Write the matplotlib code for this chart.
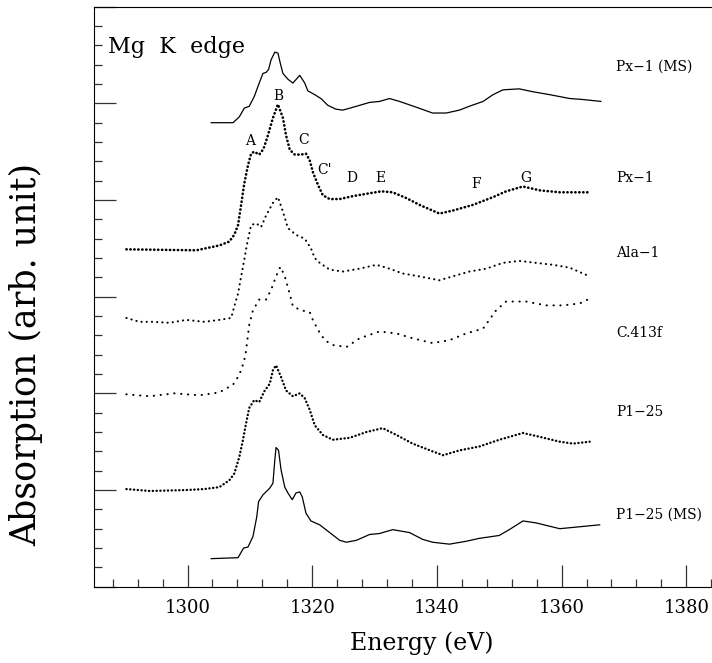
import matplotlib
matplotlib.use("Agg")
import matplotlib.pyplot as plt
from matplotlib.ticker import MultipleLocator

plt.rcParams['font.family'] = ['DejaVu Serif']

# Px-1 (MS) : calcul multiple scattering
pxms_e = [1303.8, 1307.3, 1308.3, 1309.1, 1309.9, 1310.7, 1311.5, 1312.1, 1312.6, 1313.0,
          1313.4, 1314.0, 1314.5, 1314.9, 1315.3, 1316.1, 1316.9, 1318.0, 1318.8, 1319.3,
          1320.4, 1321.4, 1322.5, 1323.8, 1324.9, 1327.1, 1329.2, 1330.8, 1332.4, 1334.0,
          1336.7, 1339.3, 1341.5, 1343.6, 1345.2, 1347.4, 1349.0, 1350.6, 1353.2, 1355.4,
          1358.1, 1361.3, 1363.4, 1366.3]
pxms_y = [4.80, 4.80, 4.86, 4.95, 4.97, 5.07, 5.21, 5.31, 5.32, 5.35,
          5.45, 5.53, 5.52, 5.41, 5.31, 5.25, 5.21, 5.29, 5.21, 5.13,
          5.09, 5.05, 4.98, 4.94, 4.93, 4.97, 5.01, 5.02, 5.05, 5.02,
          4.96, 4.90, 4.90, 4.93, 4.97, 5.02, 5.09, 5.14, 5.15, 5.12,
          5.09, 5.05, 5.04, 5.02]

# Px-1 experimental
px1_e = [1290.2, 1301.4, 1305.1, 1306.7, 1307.5, 1308.1, 1308.6, 1309.1, 1309.7, 1310.2,
         1310.7, 1311.5, 1312.2, 1312.9, 1313.7, 1314.5, 1315.3, 1315.8, 1316.4, 1317.2,
         1318.2, 1319.0, 1319.6, 1320.1, 1320.9, 1321.7, 1322.8, 1324.4, 1326.5, 1329.2,
         1331.1, 1332.9, 1335.1, 1337.2, 1340.4, 1342.5, 1345.8, 1349.0, 1351.1, 1353.8,
         1356.5, 1359.7, 1364.7]
px1_y = [3.49, 3.48, 3.53, 3.57, 3.64, 3.74, 3.95, 4.17, 4.36, 4.48,
         4.50, 4.47, 4.53, 4.67, 4.85, 4.99, 4.85, 4.67, 4.52, 4.47,
         4.47, 4.48, 4.41, 4.29, 4.16, 4.05, 4.01, 4.01, 4.04, 4.07,
         4.09, 4.08, 4.02, 3.95, 3.86, 3.89, 3.95, 4.03, 4.09, 4.14,
         4.10, 4.08, 4.08]

# Ala-1
ala_e = [1290.2, 1292.3, 1294.4, 1297.1, 1299.8, 1302.7, 1305.1, 1307.0, 1307.5, 1308.1,
         1308.6, 1309.1, 1309.5, 1310.2, 1311.0, 1311.8, 1312.6, 1313.7, 1314.5, 1315.3,
         1316.1, 1317.4, 1318.8, 1319.8, 1320.4, 1321.2, 1322.8, 1324.9, 1327.6, 1330.3,
         1332.4, 1334.5, 1337.2, 1340.4, 1342.5, 1345.2, 1347.9, 1350.6, 1353.2, 1355.9,
         1358.6, 1361.3, 1364.5]
ala_y = [2.78, 2.74, 2.74, 2.73, 2.76, 2.74, 2.76, 2.78, 2.90, 3.03,
         3.21, 3.38, 3.53, 3.74, 3.76, 3.72, 3.84, 3.97, 4.03, 3.88,
         3.71, 3.64, 3.60, 3.50, 3.40, 3.35, 3.28, 3.26, 3.29, 3.33,
         3.29, 3.24, 3.21, 3.17, 3.21, 3.26, 3.29, 3.35, 3.37, 3.35,
         3.33, 3.30, 3.21]

# C.413f
c413_e = [1290.2, 1293.9, 1297.9, 1301.9, 1305.1, 1307.3, 1308.1, 1308.6, 1309.0, 1309.3,
          1309.6, 1309.9, 1310.5, 1311.5, 1312.6, 1313.4, 1314.2, 1314.9, 1315.6, 1316.4,
          1316.9, 1318.2, 1319.6, 1320.1, 1320.9, 1322.0, 1323.3, 1325.5, 1327.6, 1330.8,
          1333.5, 1336.1, 1339.3, 1342.0, 1344.7, 1347.4, 1348.4, 1349.5, 1351.1, 1354.3,
          1357.5, 1360.2, 1362.9, 1364.5]
c413_y = [1.99, 1.97, 2.00, 1.98, 2.01, 2.09, 2.17, 2.24, 2.32, 2.40,
          2.55, 2.71, 2.86, 2.97, 2.97, 3.07, 3.21, 3.31, 3.21, 3.03,
          2.90, 2.86, 2.84, 2.76, 2.66, 2.55, 2.50, 2.48, 2.57, 2.64,
          2.62, 2.57, 2.52, 2.55, 2.62, 2.67, 2.76, 2.86, 2.95, 2.95,
          2.91, 2.91, 2.93, 2.98]

# P1-25
p125_e = [1290.2, 1293.9, 1299.8, 1302.7, 1305.1, 1306.7, 1307.5, 1308.3, 1308.9, 1309.3,
          1309.9, 1310.7, 1311.5, 1312.3, 1313.2, 1313.7, 1314.2, 1315.0, 1315.8, 1316.9,
          1318.0, 1318.8, 1319.6, 1320.4, 1321.7, 1323.3, 1326.0, 1328.7, 1331.3, 1333.5,
          1336.1, 1339.3, 1341.0, 1343.6, 1346.8, 1350.0, 1353.8, 1356.5, 1359.7, 1361.8,
          1364.5]
p125_y = [1.01, 0.99, 1.00, 1.01, 1.03, 1.10, 1.17, 1.34, 1.52, 1.66,
          1.85, 1.93, 1.91, 2.02, 2.10, 2.24, 2.29, 2.17, 2.03, 1.97,
          2.00, 1.95, 1.83, 1.67, 1.57, 1.52, 1.54, 1.60, 1.64, 1.57,
          1.48, 1.40, 1.36, 1.41, 1.45, 1.52, 1.59, 1.55, 1.50, 1.48,
          1.50]

# P1-25 (MS)
p1ms_e = [1303.8, 1308.1, 1309.0, 1309.7, 1310.5, 1311.1, 1311.4, 1312.1, 1313.2, 1313.7,
          1314.0, 1314.2, 1314.6, 1315.0, 1315.6, 1316.1, 1316.8, 1317.4, 1318.0, 1318.4,
          1319.0, 1319.8, 1321.2, 1322.8, 1324.4, 1325.5, 1327.1, 1329.2, 1330.8, 1332.9,
          1335.6, 1337.7, 1339.3, 1342.0, 1344.7, 1346.8, 1350.0, 1351.6, 1353.8, 1355.9,
          1359.7, 1366.1]
p1ms_y = [0.29, 0.30, 0.40, 0.41, 0.52, 0.72, 0.88, 0.95, 1.02, 1.07,
          1.31, 1.44, 1.41, 1.21, 1.03, 0.97, 0.90, 0.97, 0.98, 0.93,
          0.76, 0.68, 0.64, 0.56, 0.48, 0.46, 0.48, 0.54, 0.55, 0.59,
          0.56, 0.49, 0.46, 0.44, 0.47, 0.50, 0.53, 0.59, 0.68, 0.66,
          0.60, 0.64]

# lettres des structures sur Px-1
peak_txt = ['A', 'B', 'C', "C'", 'D', 'E', 'F', 'G']
peak_e = [1310.1, 1314.6, 1318.6, 1322.0, 1326.4, 1330.9, 1346.3, 1354.2]
peak_y = [4.61, 5.08, 4.62, 4.31, 4.23, 4.23, 4.17, 4.23]

# noms des spectres (cote droit)
names = ['Px\u22121 (MS)', 'Px\u22121', 'Ala\u22121', 'C.413f', 'P1\u221225', 'P1\u221225 (MS)']
names_y = [5.38, 4.23, 3.45, 2.62, 1.81, 0.74]
names_e = 1368.8

fig = plt.figure(figsize=(7.12, 6.63), dpi=100)
ax = fig.add_axes([0.1320, 0.1151, 0.9195, 0.8748])

# theorie en trait plein, experience en pointille (points ronds)
ax.plot(pxms_e, pxms_y, color='black', lw=0.9)
ax.plot(p1ms_e, p1ms_y, color='black', lw=0.9)
ax.plot(px1_e, px1_y, color='black', lw=1.9, ls=(0, (0.1, 1.4)), dash_capstyle='round')
ax.plot(ala_e, ala_y, color='black', lw=1.5, ls=(0, (0.1, 2.4)), dash_capstyle='round')
ax.plot(c413_e, c413_y, color='black', lw=1.5, ls=(0, (0.1, 3.2)), dash_capstyle='round')
ax.plot(p125_e, p125_y, color='black', lw=1.7, ls=(0, (0.1, 1.5)), dash_capstyle='round')

for t, e, y in zip(peak_txt, peak_e, peak_y):
    ax.text(e, y, t, fontsize=10, ha='center', va='center')

for t, y in zip(names, names_y):
    ax.text(names_e, y, t, fontsize=10, ha='left', va='center')

ax.text(1287.2, 5.58, 'Mg  K  edge', fontsize=16, ha='left', va='center')

ax.set_xlim(1285, 1390)
ax.set_ylim(0, 6)
ax.xaxis.set_major_locator(MultipleLocator(20))
ax.xaxis.set_minor_locator(MultipleLocator(4))
ax.yaxis.set_major_locator(MultipleLocator(1))
ax.yaxis.set_minor_locator(MultipleLocator(0.2))
ax.tick_params(which='both', direction='in', top=False, right=False, color='#333333', width=0.9)
ax.tick_params(which='major', length=15.5)
ax.tick_params(which='minor', length=5.8)
ax.tick_params(axis='x', labelsize=13, pad=9)
ax.set_yticklabels([])
ax.spines['right'].set_visible(False)

ax.set_xlabel('Energy (eV)', fontsize=17, labelpad=10)
ax.set_ylabel('Absorption (arb. unit)', fontsize=25)
ax.yaxis.set_label_coords(-0.077, 0.40)

fig.savefig('out.png', dpi=100)
